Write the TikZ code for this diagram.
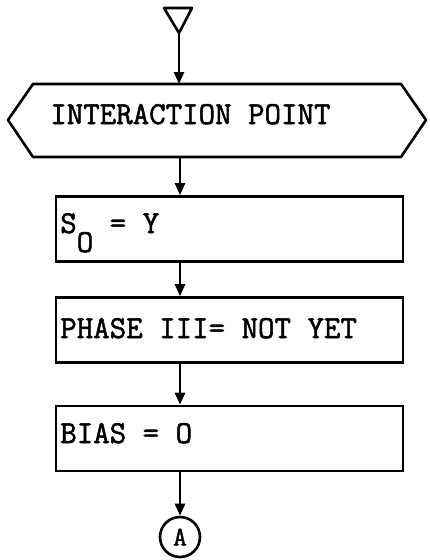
\documentclass[tikz,border=0pt]{standalone}
\usepackage{fontspec}
\newfontfamily\flowfont{Latin Modern Mono}[FakeBold=1.6]
\usetikzlibrary{arrows.meta}
\begin{document}
\begin{tikzpicture}[x=1pt,y=-1pt, line width=2.6pt,
  flow/.style={-{Triangle[length=12pt,width=10pt]}},
  lbl/.style={font=\flowfont\fontsize{32}{36}\selectfont, inner sep=0pt, anchor=base west},
  procbox/.style={draw, minimum width=347pt, minimum height=65pt, inner sep=0pt},
  conn/.style={draw, circle, minimum size=40pt, inner sep=0pt, font=\flowfont\fontsize{27}{30}\selectfont}]
\useasboundingbox (0,0) rectangle (429,560);
% entry triangle
\draw[line join=round] (164,8) -- (192,8) -- (179,33) -- cycle;
\coordinate (tri) at (179,33);
% hexagon
\draw[line join=round] (33,84) -- (401,84) -- (426,120) -- (401,157) -- (33,157) -- (8,120) -- cycle;
\coordinate (hextop) at (179,84);
\coordinate (hexbot) at (180,157);
\node[lbl] (t0) at (49,124) {INTERACTION POINT};
% boxes
\node[procbox] (b1) at (229.5,229) {};
\node[procbox] (b2) at (229.5,330) {};
\node[procbox] (b3) at (229.5,438.5) {};
\node[lbl] (t1) at (59,233) {S\raisebox{-19pt}{O} = Y};
\node[lbl] (t2) at (59,338) {PHASE III= NOT YET};
\node[lbl] (t3) at (59,443) {BIAS = O};
% connector
\node[conn] (A) at (180,537) {A};
% arrows
\draw[flow] (tri) -- (hextop);
\draw[flow] (hexbot) -- (b1.north -| hexbot);
\draw[flow] (b1.south -| hexbot) -- (b2.north -| hexbot);
\draw[flow] (b2.south -| hexbot) -- (b3.north -| hexbot);
\draw[flow] (b3.south -| hexbot) -- (A.north);
\end{tikzpicture}
\end{document}
